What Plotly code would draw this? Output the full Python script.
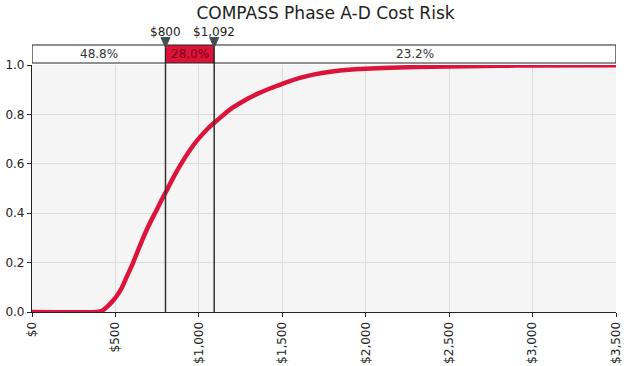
import plotly.graph_objects as go

# Data
cost = [0, 390, 420, 448, 475, 508, 540, 568, 600, 628, 660, 687, 720, 747, 775,
        803, 850, 900, 967, 1000, 1050, 1092, 1150, 1200, 1266, 1300, 1350, 1426,
        1500, 1546, 1600, 1700, 1800, 1900, 2000, 2200, 2400, 2600, 2800, 3000, 3500]
prob = [0, 0, 0.005, 0.02, 0.038, 0.065, 0.1, 0.143, 0.19, 0.237, 0.29, 0.332,
        0.378, 0.413, 0.451, 0.487, 0.548, 0.607, 0.675, 0.703, 0.74, 0.766, 0.80,
        0.826, 0.853, 0.866, 0.883, 0.905, 0.924, 0.935, 0.947, 0.963, 0.974, 0.981,
        0.985, 0.990, 0.993, 0.995, 0.997, 0.998, 0.999]

markers = [800, 1092]
marker_labels = ["$800", "$1,092"]
band_edges = [0, 800, 1092, 3500]
band_labels = ["48.8%", "28.0%", "23.2%"]
band_fill = ["white", "#dc143c", "white"]
band_text_color = ["#333333", "#7a0010", "#333333"]

xticks = [0, 500, 1000, 1500, 2000, 2500, 3000, 3500]
xtick_text = ["$0", "$500", "$1,000", "$1,500", "$2,000", "$2,500", "$3,000", "$3,500"]
yticks = [0, 0.2, 0.4, 0.6, 0.8, 1.0]
ytick_text = ["0.0", "0.2", "0.4", "0.6", "0.8", "1.0"]

FONT = "DejaVu Sans"

fig = go.Figure()
fig.add_trace(go.Scatter(x=cost, y=prob, mode="lines",
                         line=dict(color="#dc143c", width=4.5, shape="spline", smoothing=0.5),
                         hoverinfo="skip"))

band_y0, band_y1 = 1.008, 1.081
tri_half = 27  # half width of marker triangles in data units
shapes = []
annotations = []
for i in range(3):
    shapes.append(dict(type="rect", xref="x", yref="paper",
                       x0=band_edges[i], x1=band_edges[i + 1], y0=band_y0, y1=band_y1,
                       fillcolor=band_fill[i], line=dict(color="#222222", width=1.2)))
    annotations.append(dict(x=(band_edges[i] + band_edges[i + 1]) / 2, y=(band_y0 + band_y1) / 2,
                            xref="x", yref="paper", text=band_labels[i], showarrow=False,
                            xanchor="center", yanchor="middle",
                            font=dict(family=FONT, size=12, color=band_text_color[i])))
for m, lab in zip(markers, marker_labels):
    shapes.append(dict(type="line", xref="x", yref="paper", x0=m, x1=m, y0=0, y1=band_y0,
                       line=dict(color="#333333", width=1.5)))
    shapes.append(dict(type="path", xref="x", yref="paper",
                       path=f"M {m - tri_half},1.111 L {m + tri_half},1.111 L {m},1.071 Z",
                       fillcolor="#3f4f4f", line=dict(color="#3f4f4f", width=1)))
    annotations.append(dict(x=m, y=1.135, xref="x", yref="paper", text=lab, showarrow=False,
                            xanchor="center", yanchor="middle",
                            font=dict(family=FONT, size=12, color="#222222")))

fig.update_layout(
    width=626, height=366,
    margin=dict(l=32, r=10, t=65, b=54),
    paper_bgcolor="white", plot_bgcolor="#f5f5f5",
    showlegend=False,
    title=dict(text="COMPASS Phase A-D Cost Risk", x=0.52, xanchor="center",
               y=0.965, yanchor="middle", font=dict(family=FONT, size=17, color="#222222")),
    shapes=shapes, annotations=annotations,
    xaxis=dict(range=[0, 3500], tickvals=xticks, ticktext=xtick_text, tickangle=-90,
               automargin=False,
               showgrid=True, gridcolor="#dcdcdc", gridwidth=1.2, zeroline=False,
               showline=True, linecolor="#222222", linewidth=1.2,
               ticks="outside", ticklen=4, tickcolor="#222222",
               tickfont=dict(family=FONT, size=12, color="#222222")),
    yaxis=dict(range=[0, 1.0], tickvals=yticks, ticktext=ytick_text,
               automargin=False,
               showgrid=True, gridcolor="#dcdcdc", gridwidth=1.2, zeroline=False,
               showline=True, linecolor="#222222", linewidth=1.2,
               ticks="outside", ticklen=4, tickcolor="#222222",
               tickfont=dict(family=FONT, size=12, color="#222222")),
)

fig.write_html("out.html")
